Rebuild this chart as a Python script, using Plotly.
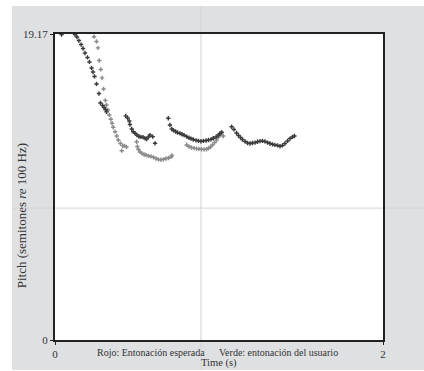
import plotly.graph_objects as go

# Expected intonation (dark points)
exp_time = [0.040, 0.122, 0.134, 0.146, 0.159, 0.171, 0.183, 0.198, 0.210, 0.223, 0.232, 0.241,
            0.253, 0.268, 0.277, 0.290, 0.299, 0.308, 0.314,
            0.431, 0.443, 0.453, 0.457, 0.468, 0.477, 0.488, 0.500, 0.512, 0.524, 0.537, 0.549,
            0.559, 0.570, 0.579, 0.596, 0.610,
            0.691, 0.701, 0.712, 0.723, 0.735, 0.747, 0.762, 0.774, 0.787, 0.803, 0.817, 0.829,
            0.843, 0.860, 0.875, 0.890, 0.905, 0.921, 0.936, 0.951, 0.965, 0.982, 0.996, 1.006, 1.016,
            1.077, 1.091, 1.107, 1.119, 1.131, 1.143, 1.159, 1.174, 1.189, 1.204, 1.220, 1.235,
            1.250, 1.265, 1.280, 1.296, 1.311, 1.326, 1.341, 1.357, 1.372, 1.387, 1.402, 1.418,
            1.433, 1.448, 1.460]
exp_pitch = [19.14, 19.14, 18.98, 18.76, 18.51, 18.26, 17.98, 17.70, 17.42, 17.04, 16.79, 16.51,
             16.04, 15.44, 14.85, 14.69, 14.57, 14.44, 14.29,
             14.04, 13.91, 13.72, 13.50, 13.22, 13.05, 12.95, 12.84, 12.75, 12.72, 12.70, 12.63,
             12.59, 12.72, 12.84, 12.74, 12.32,
             13.89, 13.47, 13.22, 13.13, 13.06, 13.00, 12.95, 12.89, 12.83, 12.74, 12.67, 12.62,
             12.56, 12.51, 12.47, 12.45, 12.47, 12.50, 12.53, 12.57, 12.64, 12.72, 12.84, 12.94, 13.01,
             13.36, 13.19, 12.97, 12.81, 12.69, 12.56, 12.44, 12.34, 12.31, 12.34, 12.37, 12.42,
             12.46, 12.47, 12.44, 12.37, 12.31, 12.26, 12.22, 12.19, 12.14, 12.19, 12.31, 12.47,
             12.62, 12.72, 12.78]

# User intonation (light points)
usr_time = [0.238, 0.253, 0.262, 0.270, 0.279, 0.287, 0.296, 0.307, 0.314, 0.323, 0.331, 0.340,
            0.348, 0.355, 0.366, 0.376, 0.386, 0.399, 0.407, 0.413, 0.424, 0.436,
            0.498, 0.502, 0.509, 0.518, 0.530, 0.543, 0.555, 0.570, 0.585, 0.601, 0.616, 0.631,
            0.646, 0.662, 0.677, 0.692, 0.707, 0.713,
            0.803, 0.817, 0.832, 0.848, 0.863, 0.878, 0.893, 0.909, 0.924, 0.936, 0.948, 0.960,
            0.973, 0.985, 0.996, 1.006, 1.016, 1.026]
usr_pitch = [19.00, 18.70, 18.30, 17.51, 16.95, 16.42, 15.73, 15.01, 14.72, 14.41, 14.10, 13.83,
             13.58, 13.33, 13.05, 12.78, 12.53, 12.31, 11.86, 12.16, 12.16, 12.09,
             12.42, 12.12, 11.94, 11.78, 11.69, 11.62, 11.59, 11.54, 11.50, 11.44, 11.37, 11.31,
             11.29, 11.32, 11.37, 11.40, 11.47, 11.56,
             12.22, 12.12, 12.06, 12.02, 11.99, 11.97, 11.95, 11.94, 11.95, 12.01, 12.09, 12.22,
             12.37, 12.53, 12.72, 12.84, 12.99, 12.78]

x_ticks = [0, 2]
x_tick_text = ["0", "2"]
y_ticks = [0, 19.17]
y_tick_text = ["0", "19.17"]

SERIF = "Liberation Serif, Times New Roman, serif"
TXT = "#333333"

fig = go.Figure()
fig.add_trace(go.Scatter(x=usr_time, y=usr_pitch, mode="markers",
                         marker=dict(symbol="cross", size=3.6, color="#8a8a8a", line=dict(width=0)),
                         showlegend=False, cliponaxis=False, hoverinfo="skip"))
fig.add_trace(go.Scatter(x=exp_time, y=exp_pitch, mode="markers",
                         marker=dict(symbol="cross", size=3.6, color="#3a3a3a", line=dict(width=0)),
                         showlegend=False, cliponaxis=False, hoverinfo="skip"))

axis_common = dict(showline=True, mirror=True, linewidth=2, linecolor="#222222",
                   showgrid=False, zeroline=False, ticks="outside", ticklen=3,
                   tickcolor="#222222", tickwidth=1,
                   tickfont=dict(family=SERIF, size=11, color=TXT))

fig.update_xaxes(range=[0, 2], tickvals=x_ticks, ticktext=x_tick_text, **axis_common)
fig.update_yaxes(range=[0, 19.17], tickvals=y_ticks, ticktext=y_tick_text, **axis_common)

shapes = [
    # white plot panel
    dict(type="rect", xref="paper", yref="paper", x0=0, x1=1, y0=0, y1=1,
         fillcolor="white", line=dict(width=0), layer="below"),
    # crosshair lines
    dict(type="line", xref="paper", yref="paper", x0=0.445, x1=0.445, y0=-0.098, y1=1.0915,
         line=dict(color="#d4d4d4", width=1), layer="below"),
    dict(type="line", xref="paper", yref="paper", x0=-0.1311, x1=1.2, y0=0.431, y1=0.431,
         line=dict(color="#d4d4d4", width=1), layer="below"),
    # white strips outside the grey panel
    dict(type="rect", xref="paper", yref="paper", x0=-0.2, x1=-0.1311, y0=-0.2, y1=1.2,
         fillcolor="white", line=dict(width=0), layer="above"),
    dict(type="rect", xref="paper", yref="paper", x0=-0.2, x1=1.2, y0=1.0915, y1=1.2,
         fillcolor="white", line=dict(width=0), layer="above"),
    dict(type="rect", xref="paper", yref="paper", x0=-0.2, x1=1.2, y0=-0.2, y1=-0.098,
         fillcolor="white", line=dict(width=0), layer="above"),
]

annotations = [
    dict(text="Rojo: Entonación esperada", xref="paper", yref="paper", x=0.294, y=-0.04,
         xanchor="center", yanchor="middle", showarrow=False,
         font=dict(family=SERIF, size=10, color=TXT)),
    dict(text="Verde: entonación del usuario", xref="paper", yref="paper", x=0.68, y=-0.04,
         xanchor="center", yanchor="middle", showarrow=False,
         font=dict(family=SERIF, size=10, color=TXT)),
    dict(text="Time (s)", xref="paper", yref="paper", x=0.5, y=-0.075,
         xanchor="center", yanchor="middle", showarrow=False,
         font=dict(family=SERIF, size=10.5, color=TXT)),
    dict(text="Pitch (semitones <i>re</i> 100 Hz)", xref="paper", yref="paper", x=-0.103, y=0.405,
         xanchor="center", yanchor="middle", showarrow=False, textangle=-90,
         font=dict(family=SERIF, size=13, color=TXT)),
]

fig.update_layout(
    width=424, height=371,
    margin=dict(l=55, r=41, t=34, b=31),
    paper_bgcolor="#dfe0e2",
    plot_bgcolor="rgba(0,0,0,0)",
    shapes=shapes,
    annotations=annotations,
    showlegend=False,
    hovermode=False,
)

fig.write_html("out.html", config={"displayModeBar": False},
               post_script="document.body.style.margin='0';")
